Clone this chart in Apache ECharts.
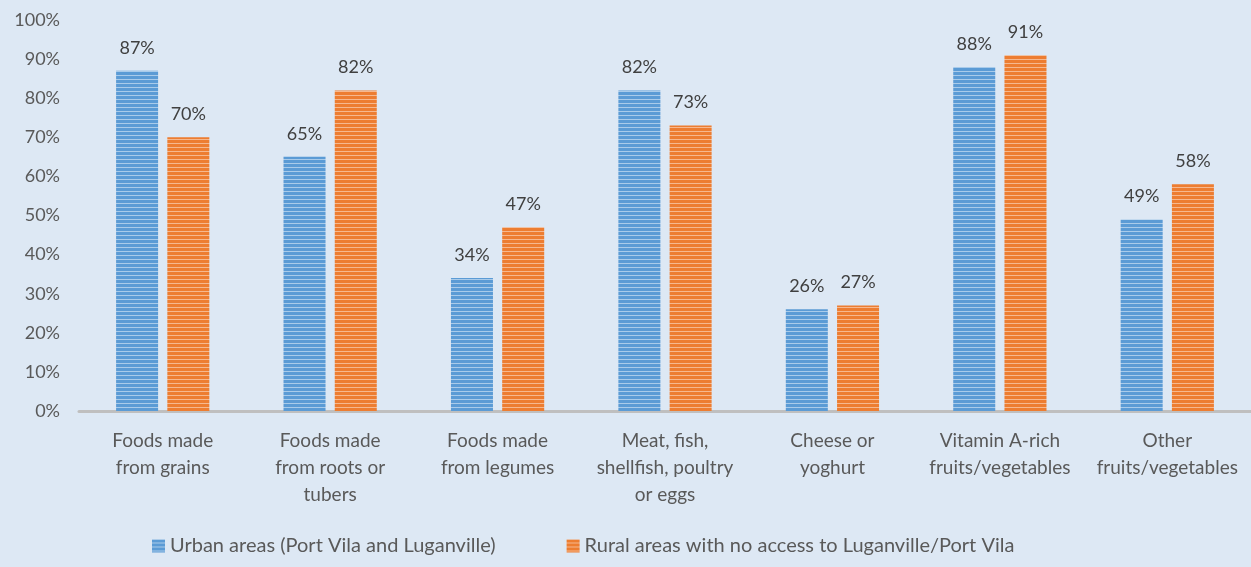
<!DOCTYPE html>
<html>
<head>
<meta charset="utf-8">
<script src="https://cdn.jsdelivr.net/npm/echarts@6/dist/echarts.min.js"></script>
<style>
  html, body { margin: 0; padding: 0; background: #dde8f4; }
  #main { width: 1251px; height: 567px; }
</style>
</head>
<body>
<div id="main"></div>
<script>
var categories = [
  'Foods made\nfrom grains',
  'Foods made\nfrom roots or\ntubers',
  'Foods made\nfrom legumes',
  'Meat, fish,\nshellfish, poultry\nor eggs',
  'Cheese or\nyoghurt',
  'Vitamin A-rich\nfruits/vegetables',
  'Other\nfruits/vegetables'
];
var urban = [87, 65, 34, 82, 26, 88, 49];
var rural = [70, 82, 47, 73, 27, 91, 58];
var yTicks = [0, 10, 20, 30, 40, 50, 60, 70, 80, 90, 100];

// horizontal stripe pattern for the bars
function stripes(dark, light) {
  var c = document.createElement('canvas');
  c.width = 4; c.height = 4;
  var ctx = c.getContext('2d');
  ctx.fillStyle = dark;
  ctx.fillRect(0, 0, 4, 4);
  ctx.fillStyle = light;
  ctx.fillRect(0, 3, 4, 1.3);
  return { image: c, repeat: 'repeat' };
}

var chartDom = document.getElementById('main');
var myChart = echarts.init(chartDom);
var font = 'Lato, "Open Sans", sans-serif';
var option = {
  backgroundColor: '#dde8f4',
  textStyle: { fontFamily: font },
  grid: { left: 79, right: 0, top: 20, bottom: 156 },
  legend: {
    bottom: 6,
    left: 147,
    itemWidth: 13,
    itemHeight: 13,
    itemGap: 71,
    icon: 'rect',
    textStyle: { fontSize: 20, color: '#595959', fontFamily: font },
    data: ['Urban areas (Port Vila and Luganville)', 'Rural areas with no access to Luganville/Port Vila']
  },
  xAxis: {
    type: 'category',
    data: categories,
    axisLine: { lineStyle: { color: '#bfbfbf', width: 3 } },
    axisTick: { show: false },
    axisLabel: { fontSize: 19, color: '#595959', lineHeight: 27, margin: 16, interval: 0, fontFamily: font }
  },
  yAxis: {
    type: 'value',
    min: 0,
    max: 100,
    interval: 10,
    splitLine: { show: false },
    axisLine: { show: false },
    axisLabel: {
      fontSize: 18, color: '#595959', margin: 19, fontFamily: font,
      formatter: function (v) { return yTicks.indexOf(v) >= 0 ? v + '%' : ''; }
    }
  },
  series: [
    {
      name: 'Urban areas (Port Vila and Luganville)',
      type: 'bar',
      data: urban,
      barWidth: 42,
      barGap: '22%',
      itemStyle: { color: stripes('#5b9bd5', '#a9cbea') },
      label: { show: true, position: 'top', distance: 14, fontSize: 18, color: '#404040', formatter: '{c}%', fontFamily: font }
    },
    {
      name: 'Rural areas with no access to Luganville/Port Vila',
      type: 'bar',
      data: rural,
      barWidth: 42,
      itemStyle: { color: stripes('#ed7d31', '#f6b88e') },
      label: { show: true, position: 'top', distance: 14, fontSize: 18, color: '#404040', formatter: '{c}%', fontFamily: font }
    }
  ]
};
option && myChart.setOption(option);
</script>
</body>
</html>
